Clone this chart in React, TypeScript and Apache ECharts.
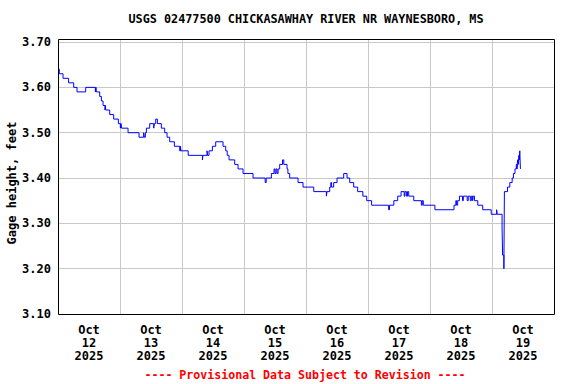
import React, { useEffect, useRef } from "react";
import * as echarts from "echarts";

const chartTitle = "USGS 02477500 CHICKASAWHAY RIVER NR WAYNESBORO, MS";
const yAxisName = "Gage height, feet";
const footerNote = "---- Provisional Data Subject to Revision ----";

// Day labels (placed at noon of each day); hours counted from Oct 12 2025 00:00
const dayMonths = ["Oct", "Oct", "Oct", "Oct", "Oct", "Oct", "Oct", "Oct"];
const dayNumbers = ["12", "13", "14", "15", "16", "17", "18", "19"];
const dayYears = ["2025", "2025", "2025", "2025", "2025", "2025", "2025", "2025"];

const yTicks = [3.1, 3.2, 3.3, 3.4, 3.5, 3.6, 3.7];

// [hours since Oct 12 00:00, gage height ft] — value holds until next reading
const readings: [number, number][] = [
  [0, 3.64], [0.5, 3.63], [1.95, 3.62], [4.1, 3.61], [6.08, 3.60], [7.37, 3.59],
  [10.72, 3.60], [14.46, 3.59], [14.7, 3.60], [14.85, 3.59], [16.14, 3.58], [16.79, 3.57],
  [17.43, 3.56], [18.2, 3.55], [18.35, 3.56], [18.46, 3.55], [20.01, 3.54], [21.56, 3.53],
  [23.37, 3.52], [24.14, 3.51], [24.4, 3.52], [24.6, 3.51], [27.11, 3.50], [31.37, 3.49],
  [33.17, 3.50], [33.4, 3.49], [33.82, 3.50], [34.21, 3.51], [35.5, 3.52], [37.05, 3.51],
  [37.3, 3.52], [37.82, 3.53], [38.47, 3.52], [40.01, 3.51], [41.3, 3.50], [42.21, 3.49],
  [43.24, 3.48], [45.05, 3.47], [47.11, 3.46], [47.4, 3.47], [47.6, 3.46], [50.4, 3.45],
  [55.9, 3.44], [56.1, 3.45], [57.69, 3.46], [57.9, 3.45], [58.46, 3.46], [59.76, 3.47],
  [61.05, 3.48], [63.88, 3.47], [64.92, 3.46], [65.5, 3.45], [66.21, 3.44], [68.4, 3.43],
  [69.69, 3.42], [71.63, 3.41], [75.5, 3.40], [80.2, 3.39], [80.6, 3.40], [82.6, 3.41],
  [83.63, 3.42], [84.0, 3.41], [84.4, 3.42], [84.8, 3.41], [85.2, 3.42], [85.82, 3.43],
  [86.9, 3.44], [87.4, 3.43], [88.66, 3.42], [89.0, 3.41], [89.69, 3.40], [92.92, 3.39],
  [94.85, 3.38], [99.0, 3.37], [103.89, 3.36], [104.14, 3.37], [105.18, 3.38], [105.6, 3.39],
  [105.9, 3.38], [106.72, 3.39], [108.01, 3.40], [110.6, 3.41], [111.88, 3.40], [112.92, 3.39],
  [114.47, 3.38], [116.0, 3.37], [118.0, 3.36], [119.5, 3.35], [121.4, 3.34], [128.0, 3.33],
  [128.3, 3.34], [130.0, 3.35], [131.5, 3.36], [132.8, 3.37], [134.0, 3.36], [134.3, 3.37],
  [134.86, 3.36], [135.3, 3.37], [135.76, 3.36], [137.71, 3.35], [140.67, 3.34], [141.0, 3.35],
  [141.4, 3.34], [145.9, 3.33], [153.3, 3.34], [154.0, 3.35], [154.3, 3.34], [154.7, 3.35],
  [155.4, 3.36], [156.6, 3.35], [156.9, 3.36], [158.4, 3.35], [158.8, 3.36], [159.6, 3.35],
  [160.0, 3.36], [160.5, 3.35], [160.7, 3.36], [161.2, 3.35], [162.5, 3.34], [164.4, 3.33],
  [167.7, 3.32], [169.8, 3.33], [170.0, 3.32], [171.9, 3.29], [172.1, 3.23], [172.6, 3.20],
  [172.8, 3.37], [174.0, 3.38], [174.9, 3.39], [175.8, 3.40], [176.3, 3.41], [176.9, 3.42],
  [177.4, 3.43], [177.7, 3.42], [177.9, 3.44], [178.2, 3.43], [178.4, 3.45], [178.6, 3.44],
  [178.75, 3.46], [179.0, 3.42],
];

const FONT = "'DejaVu Sans Mono', 'Liberation Mono', monospace";

export default function App() {
  const ref = useRef<HTMLDivElement>(null);

  useEffect(() => {
    if (!ref.current) return;
    const chart = echarts.init(ref.current, null, { renderer: "svg" });
    const labelHours = dayNumbers.map((_, i) => i * 24 + 12);
    const yMin = yTicks[0];
    const yMax = 3.7067;

    chart.setOption({
      animation: false,
      backgroundColor: "#ffffff",
      grid: {
        left: 58,
        right: 22,
        top: 39,
        height: 275,
        show: false,
        containLabel: false,
      },
      xAxis: {
        type: "value",
        min: 0,
        max: dayNumbers.length * 24,
        interval: 24,
        axisLine: { show: false },
        axisTick: { show: false },
        splitLine: {
          show: true,
          showMinLine: false,
          showMaxLine: false,
          lineStyle: { color: "#c8c8c8", width: 1 },
        },
        axisLabel: {
          show: true,
          customValues: labelHours,
          margin: 9,
          fontFamily: FONT,
          fontWeight: "bold",
          fontSize: 12,
          lineHeight: 13,
          color: "#000",
          formatter: (v: number) => {
            const i = Math.round((v - 12) / 24);
            return `${dayMonths[i]}\n${dayNumbers[i]}\n${dayYears[i]}`;
          },
        },
      },
      yAxis: {
        type: "value",
        min: yMin,
        max: yMax,
        interval: 0.1,
        axisLine: { show: false },
        axisTick: { show: false },
        splitLine: {
          show: true,
          showMinLine: false,
          showMaxLine: false,
          lineStyle: { color: "#c8c8c8", width: 1 },
        },
        axisLabel: {
          margin: 7,
          fontFamily: FONT,
          fontWeight: "bold",
          fontSize: 12,
          color: "#000",
          formatter: (v: number) => {
            const hit = yTicks.find((t) => Math.abs(t - v) < 0.001);
            return hit !== undefined ? hit.toFixed(2) : "";
          },
        },
      },
      series: [
        {
          type: "line",
          data: readings,
          step: "end",
          showSymbol: false,
          symbol: "none",
          lineStyle: { color: "#0000ff", width: 1 },
          silent: true,
        },
      ],
      graphic: [
        {
          type: "rect",
          z: 100,
          silent: true,
          shape: { x: 58.5, y: 39.5, width: 496, height: 275 },
          style: { fill: "none", stroke: "#000000", lineWidth: 1 },
        },
        {
          type: "text",
          x: 306,
          y: 19,
          style: {
            text: chartTitle,
            fill: "#000",
            font: `bold 11.8px ${FONT}`,
            textAlign: "center",
            textVerticalAlign: "middle",
          },
        },
        {
          type: "text",
          x: 12,
          y: 183,
          rotation: Math.PI / 2,
          style: {
            text: yAxisName,
            fill: "#000",
            font: `bold 12px ${FONT}`,
            textAlign: "center",
            textVerticalAlign: "middle",
          },
        },
        {
          type: "text",
          x: 305,
          y: 375,
          style: {
            text: footerNote,
            fill: "#ff0000",
            font: `bold 11.6px ${FONT}`,
            textAlign: "center",
            textVerticalAlign: "middle",
          },
        },
      ],
    });

    return () => chart.dispose();
  }, []);

  return (
    <div
      ref={ref}
      style={{ position: "absolute", left: 0, top: 0, width: 576, height: 384, background: "#fff" }}
    />
  );
}
